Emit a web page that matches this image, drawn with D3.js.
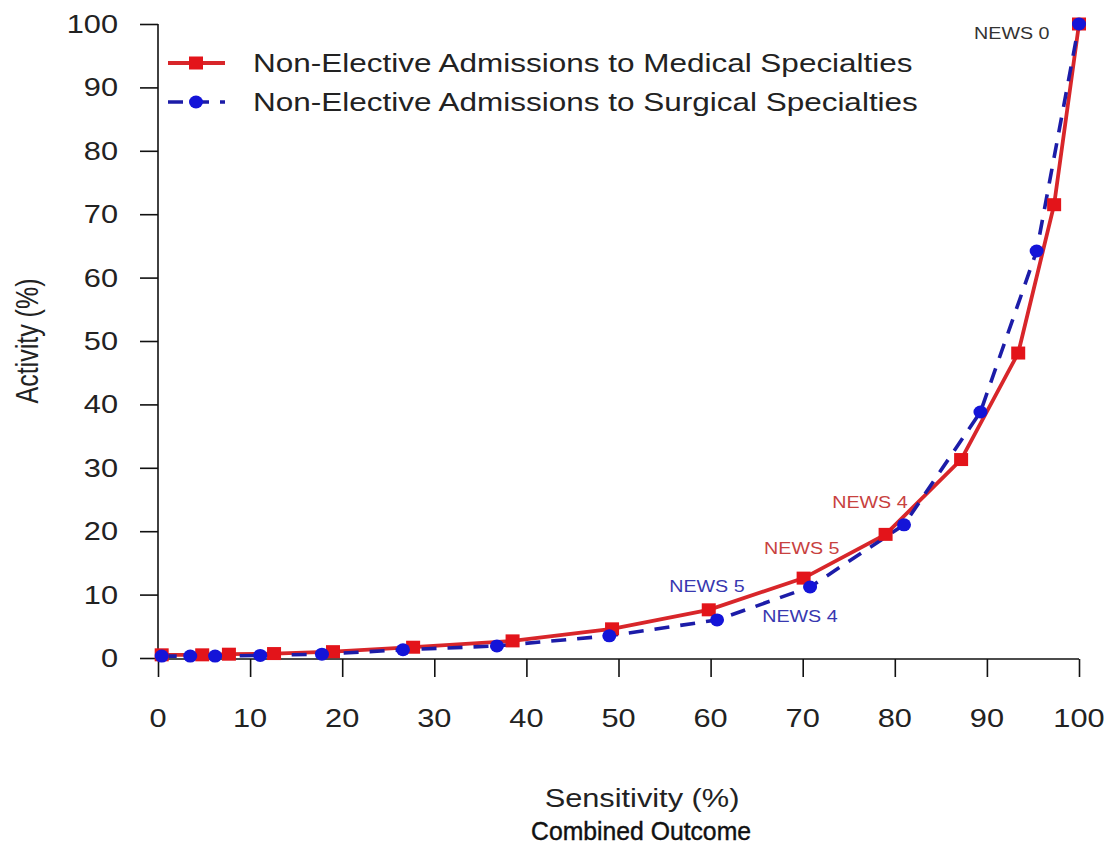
<!DOCTYPE html>
<html>
<head>
<meta charset="utf-8">
<script src="https://cdn.jsdelivr.net/npm/d3@7"></script>
<style>
  body { margin: 0; background: #fff; }
  text { font-family: "Liberation Sans", Arial, sans-serif; fill: #222; }
</style>
</head>
<body>
<script>
// sensitivity (x) and activity (y)
var medX = [0.4, 4.8, 7.7, 12.6, 19.0, 27.7, 38.5, 49.3, 59.8, 70.1, 79.0, 87.2, 93.4, 97.3, 100];
var medY = [0.5, 0.5, 0.6, 0.7, 1.0, 1.7, 2.7, 4.6, 7.6, 12.6, 19.5, 31.3, 48.1, 71.5, 100];
var surX = [0.4, 3.5, 6.2, 11.1, 17.8, 26.6, 36.8, 49.0, 60.7, 70.8, 81.0, 89.3, 95.4, 100];
var surY = [0.3, 0.3, 0.3, 0.4, 0.6, 1.3, 1.9, 3.5, 6.0, 11.2, 21.0, 38.8, 64.2, 100];

var seriesNames = ["Non-Elective Admissions to Medical Specialties",
                   "Non-Elective Admissions to Surgical Specialties"];
var ticks = [0, 10, 20, 30, 40, 50, 60, 70, 80, 90, 100];

// annotation labels, placed in data units
var noteText = ["NEWS 0", "NEWS 4", "NEWS 5", "NEWS 5", "NEWS 4"];
var noteX = [92.7, 77.3, 69.9, 59.6, 69.7];
var noteY = [98.6, 24.6, 17.4, 11.4, 6.6];
var noteSeries = ["none", "med", "med", "sur", "sur"];

var W = 1109, H = 853;
var margin = { top: 24, right: 30, bottom: 195, left: 158 };
var width = W - margin.left - margin.right,
    height = H - margin.top - margin.bottom;
var sx = 1.23; // the picture is stretched sideways, so is its text

var red = "#e3141a", redLine = "#d8262a", blue = "#1414d8", blueLine = "#1c1ca8";

var x = d3.scaleLinear().domain([0, 100]).range([0, width]);
var y = d3.scaleLinear().domain([0, 100]).range([height, 0]);

var svg = d3.select("body").append("svg")
    .attr("width", W).attr("height", H)
    .append("g")
    .attr("transform", "translate(" + margin.left + "," + margin.top + ")");

function stretched(sel, px, py, k) {
    return sel.attr("transform", "translate(" + px + "," + py + ") scale(" + (k || sx) + ",1)");
}

// axes, drawn R style
svg.append("g").attr("transform", "translate(0," + (height + 1) + ")")
    .call(d3.axisBottom(x).tickValues(ticks).tickSize(18).tickFormat(""));
svg.append("g")
    .call(d3.axisLeft(y).tickValues(ticks).tickSize(18).tickFormat(""));
svg.selectAll(".domain").remove();
svg.selectAll(".tick line").attr("stroke", "#111").attr("stroke-width", 1.6);
svg.append("line").attr("x1", 0).attr("x2", width).attr("y1", height + 1).attr("y2", height + 1)
    .attr("stroke", "#111").attr("stroke-width", 1.6);
svg.append("line").attr("x1", 0).attr("x2", 0).attr("y1", 0).attr("y2", height + 1)
    .attr("stroke", "#111").attr("stroke-width", 1.6);

ticks.forEach(function (t) {
    stretched(svg.append("text"), x(t), height + 69)
        .attr("text-anchor", "middle").style("font-size", "25px").text(t);
    stretched(svg.append("text"), -40, y(t) + 9)
        .attr("text-anchor", "end").style("font-size", "25px").text(t);
});

stretched(svg.append("text"), 484, 783)
    .attr("text-anchor", "middle").style("font-size", "25px").text("Sensitivity (%)");
stretched(svg.append("text"), 483, 816, 0.99)
    .attr("text-anchor", "middle").style("font-size", "25px")
    .style("fill", "#111").style("stroke", "#111").style("stroke-width", 0.4)
    .text("Combined Outcome");
svg.append("text")
    .attr("transform", "translate(" + (-120) + "," + 317 + ") rotate(-90) scale(1," + sx + ")")
    .attr("text-anchor", "middle").style("font-size", "25px").text("Activity (%)");

// lines and markers
var med = medX.map(function (v, i) { return [v, medY[i]]; });
var sur = surX.map(function (v, i) { return [v, surY[i]]; });
var line = d3.line().x(function (d) { return x(d[0]); }).y(function (d) { return y(d[1]); });

svg.append("path").datum(med).attr("d", line)
    .attr("fill", "none").attr("stroke", redLine).attr("stroke-width", 3.8);
svg.append("path").datum(sur).attr("d", line)
    .attr("fill", "none").attr("stroke", blueLine).attr("stroke-width", 3.6)
    .attr("stroke-dasharray", "15,11");

svg.selectAll(".med").data(med).enter().append("rect")
    .attr("x", function (d) { return x(d[0]) - 7; })
    .attr("y", function (d) { return y(d[1]) - 6.5; })
    .attr("width", 14).attr("height", 13).attr("fill", red);
svg.selectAll(".sur").data(sur).enter().append("ellipse")
    .attr("cx", function (d) { return x(d[0]); })
    .attr("cy", function (d) { return y(d[1]); })
    .attr("rx", 7).attr("ry", 6.5).attr("fill", blue);

// annotations
var noteColor = { none: "#333", med: "#c8423f", sur: "#3838b0" };
noteText.forEach(function (t, i) {
    stretched(svg.append("text"), x(noteX[i]), y(noteY[i]) + 6)
        .attr("text-anchor", "middle").style("font-size", "16px")
        .style("fill", noteColor[noteSeries[i]]).text(t);
});

// legend
var lg = svg.append("g").attr("transform", "translate(10,39)");
lg.append("line").attr("x1", 0).attr("x2", 57).attr("y1", 0).attr("y2", 0)
    .attr("stroke", redLine).attr("stroke-width", 3.8);
lg.append("rect").attr("x", 21).attr("y", -6.5).attr("width", 14).attr("height", 13).attr("fill", red);
lg.append("line").attr("x1", 0).attr("x2", 57).attr("y1", 39).attr("y2", 39)
    .attr("stroke", blueLine).attr("stroke-width", 3.6).attr("stroke-dasharray", "15,11");
lg.append("ellipse").attr("cx", 28).attr("cy", 39).attr("rx", 7).attr("ry", 6.5).attr("fill", blue);
seriesNames.forEach(function (n, i) {
    stretched(lg.append("text"), 85, i * 39 + 9).style("font-size", "25.6px").text(n);
});
</script>
</body>
</html>
